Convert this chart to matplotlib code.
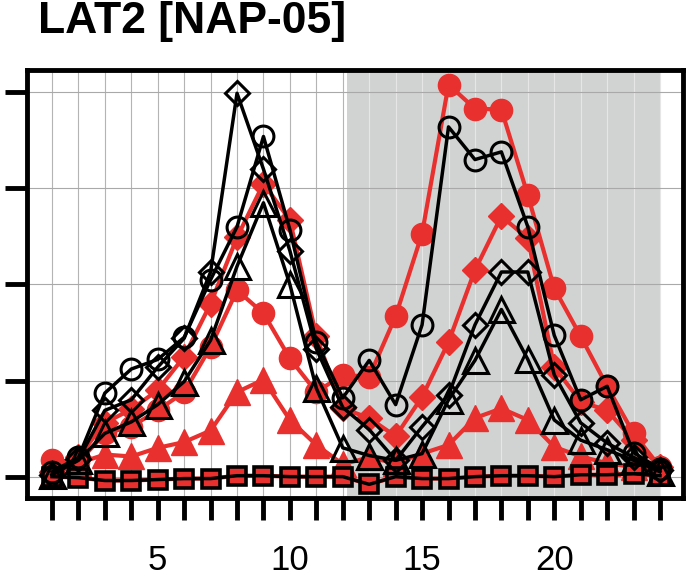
import matplotlib.pyplot as plt

plt.rcParams['font.family'] = ['Liberation Sans', 'DejaVu Sans']

# time points along x
hours = list(range(1, 25))
xtick_labels = ['5' if h == 5 else '10' if h == 10 else '15' if h == 15 else '20' if h == 20 else '' for h in hours]

# red series (filled markers)
red_circle = [0.17, 0.15, 0.45, 0.52, 0.69, 0.88, 1.35, 1.94, 1.70, 1.23, 0.88, 1.06,
              1.04, 1.67, 2.53, 4.08, 3.83, 3.82, 2.93, 1.96, 1.46, 0.94, 0.45, 0.10]
red_diamond = [0.05, 0.20, 0.56, 0.70, 0.90, 1.25, 1.80, 2.49, 3.05, 2.67, 1.46, 0.71,
               0.61, 0.42, 0.83, 1.40, 2.15, 2.71, 2.48, 1.14, 0.78, 0.69, 0.38, 0.10]
red_triangle = [0.02, 0.14, 0.23, 0.21, 0.30, 0.36, 0.48, 0.88, 1.01, 0.59, 0.33, 0.13,
                0.20, 0.14, 0.24, 0.33, 0.61, 0.71, 0.59, 0.31, 0.21, 0.14, 0.10, 0.05]
red_square = [0.00, -0.01, -0.04, -0.04, -0.03, -0.02, -0.02, 0.01, 0.01, 0.00, 0.00, 0.00,
              -0.08, 0.00, -0.02, -0.02, 0.00, 0.01, 0.01, 0.00, 0.02, 0.02, 0.03, 0.01]

# black series (open markers)
black_circle = [0.05, 0.20, 0.87, 1.12, 1.22, 1.45, 2.05, 2.60, 3.54, 2.57, 1.40, 0.82,
                1.21, 0.75, 1.58, 3.64, 3.30, 3.38, 2.60, 1.47, 0.80, 0.94, 0.25, 0.08]
black_diamond = [0.02, 0.18, 0.69, 0.80, 1.14, 1.44, 2.13, 3.99, 3.20, 2.35, 1.33, 0.72,
                 0.49, 0.17, 0.52, 0.85, 1.58, 2.13, 2.13, 1.06, 0.56, 0.35, 0.20, 0.07]
black_triangle = [0.02, 0.17, 0.45, 0.57, 0.75, 0.99, 1.42, 2.19, 2.85, 2.00, 0.92, 0.30,
                  0.22, 0.17, 0.24, 0.80, 1.21, 1.74, 1.22, 0.59, 0.38, 0.28, 0.17, 0.05]
black_square = red_square

RED = '#e8302e'
SHADE = '#d1d3d2'

fig = plt.figure(figsize=(6.91, 5.83), dpi=100)
ax = fig.add_axes([27 / 691, 1 - 498 / 583, 656 / 691, 428 / 583])

# shaded night period and grid
ax.axvspan(12.15, 24.0, color=SHADE, lw=0, zorder=0.5)
for h in hours:
    ax.axvline(h, color='#e6e6e6' if h > 12.15 else '#b4b4b4', lw=0.8, zorder=0.6)
for yv in range(5):
    ax.axhline(yv, color='#a9a9a9', lw=0.8, zorder=0.7)

# red first, black on top
ax.plot(hours, red_square, color=RED, lw=3, marker='s', ms=11, mec=RED, zorder=2)
ax.plot(hours, red_triangle, color=RED, lw=3, marker='^', ms=19, mec=RED, zorder=2)
ax.plot(hours, red_diamond, color=RED, lw=3, marker='D', ms=13, mec=RED, zorder=2)
ax.plot(hours, red_circle, color=RED, lw=3, marker='o', ms=16, mec=RED, zorder=2)

ax.plot(hours, black_square, color='black', lw=2.5, marker='s', ms=12.5, mfc='none', mew=2.6, zorder=3)
ax.plot(hours, black_triangle, color='black', lw=2.5, marker='^', ms=18, mfc='none', mew=2.2, zorder=3)
ax.plot(hours, black_diamond, color='black', lw=2.5, marker='D', ms=12.5, mfc='none', mew=2.2, zorder=3)
ax.plot(hours, black_circle, color='black', lw=2.5, marker='o', ms=15, mfc='none', mew=2.2, zorder=3)

ax.set_xlim(0.055, 24.87)
ax.set_ylim(-0.222, 4.232)
ax.set_xticks(hours)
ax.set_xticklabels(xtick_labels)
ax.set_yticks(range(5))
ax.set_yticklabels([])
ax.tick_params(length=16, width=3.5, direction='out', labelsize=25, pad=17)
for sp in ax.spines.values():
    sp.set_linewidth(3.5)
    sp.set_zorder(5)

fig.text(38 / 691, 1 - 22 / 583, 'LAT2 [NAP-05]', fontsize=32, fontweight='bold',
         ha='left', va='center')

plt.savefig('out.png', dpi=100)
